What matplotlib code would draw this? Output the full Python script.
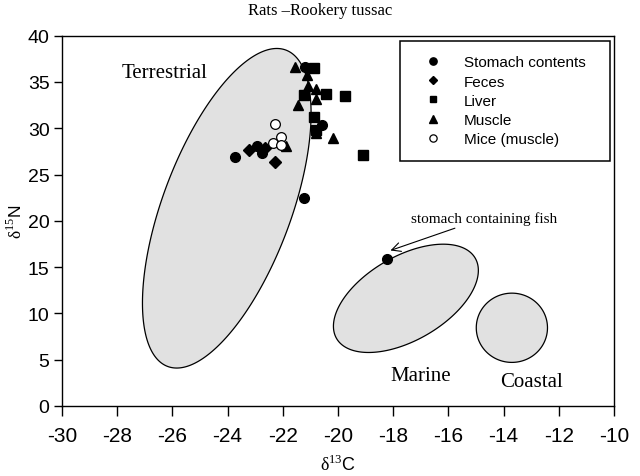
import matplotlib
matplotlib.use("Agg")
import matplotlib.pyplot as plt
import numpy as np

plt.rcParams['axes.unicode_minus'] = False
plt.rcParams['font.family'] = ['Liberation Sans', 'DejaVu Sans']
plt.rcParams['mathtext.fontset'] = 'custom'
plt.rcParams['mathtext.rm'] = 'Liberation Serif'

# data (d13C, d15N)
stomach_x = [-23.73, -22.93, -22.75, -21.2, -20.58, -21.25, -18.22]
stomach_y = [26.9, 28.1, 27.3, 36.6, 30.4, 22.5, 15.9]
feces_x = [-23.21, -22.65, -22.28]
feces_y = [27.6, 27.9, 26.4]
liver_x = [-20.87, -21.23, -20.44, -19.75, -20.86, -20.81, -19.08]
liver_y = [36.5, 33.6, 33.7, 33.5, 31.2, 29.8, 27.1]
muscle_x = [-21.56, -21.11, -21.1, -20.79, -20.79, -21.46, -20.79, -20.17, -21.9]
muscle_y = [36.6, 35.8, 34.6, 34.2, 33.2, 32.5, 29.5, 29.0, 28.1]
mice_x = [-22.28, -22.36, -22.07, -22.07]
mice_y = [30.5, 28.4, 29.1, 28.15]

# source regions: centre and two half-axis vectors, in data units
terr_c = (-24.03, 21.36)
terr_a = (2.14, 17.09)
terr_b = (-2.18, 2.42)
marine_c = (-17.54, 11.63)
marine_a = (2.51, 4.35)
marine_b = (-0.77, 3.91)
coastal_c = (-13.7, 8.45)
coastal_a = (1.29, 0.0)
coastal_b = (0.0, 3.74)

xticks = list(range(-30, -9, 2))
yticks = list(range(0, 41, 5))

fig = plt.figure(figsize=(6.4, 4.77), dpi=100)
ax = fig.add_axes([62 / 640, 1 - 407 / 477, (614 - 62) / 640, (407 - 36.7) / 477])


def region(c, a, b):
    t = np.linspace(0, 2 * np.pi, 300)
    xs = c[0] + a[0] * np.cos(t) + b[0] * np.sin(t)
    ys = c[1] + a[1] * np.cos(t) + b[1] * np.sin(t)
    ax.fill(xs, ys, facecolor='#e1e1e1', edgecolor='black', linewidth=0.9, zorder=1)


region(terr_c, terr_a, terr_b)
region(marine_c, marine_a, marine_b)
region(coastal_c, coastal_a, coastal_b)

ax.plot(stomach_x, stomach_y, 'o', color='black', ms=7, label='Stomach contents', zorder=3)
ax.plot(feces_x, feces_y, 'D', color='black', ms=5.8, label='Feces', zorder=3)
ax.plot(liver_x, liver_y, 's', color='black', ms=6.5, label='Liver', zorder=3)
ax.plot(muscle_x, muscle_y, '^', color='black', ms=7.4, label='Muscle', zorder=3)
ax.plot(mice_x, mice_y, 'o', mfc='white', mec='black', mew=0.9, ms=7,
        label='Mice (muscle)', zorder=4)

serif = ['Liberation Serif', 'DejaVu Serif']
ax.text(-26.3, 36.0, 'Terrestrial', family=serif, fontsize=15, ha='center', va='center')
ax.text(-17.0, 3.3, 'Marine', family=serif, fontsize=15, ha='center', va='center')
ax.text(-13.0, 2.7, 'Coastal', family=serif, fontsize=15, ha='center', va='center')
ax.annotate('stomach containing fish', xy=(-18.1, 16.8), xytext=(-17.35, 20.3),
            family=serif, fontsize=11, ha='left', va='center',
            arrowprops=dict(arrowstyle='->', color='black', lw=0.8,
                            shrinkA=1, shrinkB=0, mutation_scale=16))

ax.set_xlim(-30, -10)
ax.set_ylim(0, 40)
ax.set_xticks(xticks)
ax.set_yticks(yticks)
ax.tick_params(direction='out', width=1)
ax.tick_params(axis='x', length=7, pad=7.5, labelsize=15)
ax.tick_params(axis='y', length=6, pad=3, labelsize=14)
for s in ax.spines.values():
    s.set_linewidth(1)

ax.set_xlabel(r'$\mathrm{\delta}^{13}$C', fontsize=13, labelpad=6)
ax.set_ylabel(r'$\mathrm{\delta}^{15}$N', fontsize=12.5, labelpad=2)
fig.text(0.5, 1 - 11 / 477, 'Rats \u2013Rookery tussac', family=serif, fontsize=12,
         ha='center', va='center')

leg = ax.legend(loc='upper left', bbox_to_anchor=(0.612, 0, 0.381, 0.986), mode='expand',
                borderaxespad=0, fontsize=11, markerscale=0.75, fancybox=False,
                edgecolor='black', framealpha=1, borderpad=0.95, handlelength=2.5,
                handletextpad=0.75, labelspacing=0.34)
leg.get_frame().set_linewidth(1.1)

fig.savefig('out.png', dpi=100)
